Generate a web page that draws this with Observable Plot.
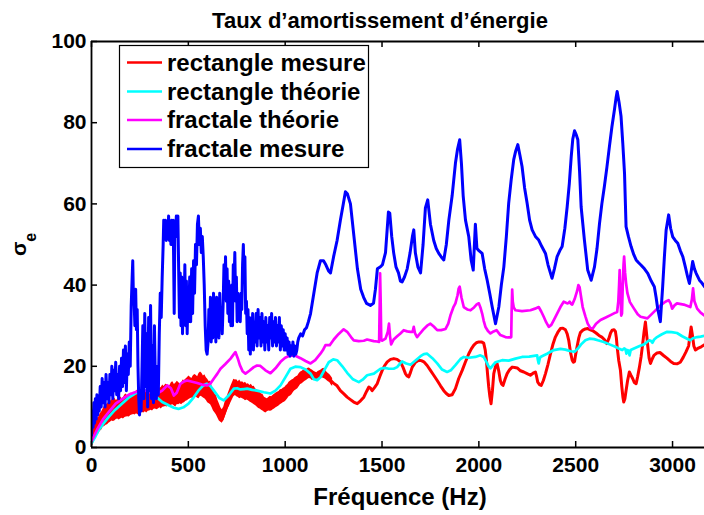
<!DOCTYPE html>
<html><head><meta charset="utf-8">
<script src="https://cdn.jsdelivr.net/npm/d3@7"></script>
<script src="https://cdn.jsdelivr.net/npm/@observablehq/plot@0.6"></script>
<style>body{margin:0;background:#fff;overflow:hidden} #chart svg{display:block}</style>
</head><body><div id="chart"></div>
<script>
const title = "Taux d’amortissement d’énergie";
const xLabel = "Fréquence (Hz)";
const yLabelMain = "σ";
const yLabelSub = "e";
const xTicks = [0, 500, 1000, 1500, 2000, 2500, 3000];
const yTicks = [0, 20, 40, 60, 80, 100];
const seriesNames = ["rectangle mesure", "rectangle théorie", "fractale théorie", "fractale mesure"];
const seriesColors = ["#ff0000", "#00ffff", "#ff00ff", "#0000ff"];

// rectangle mesure: [Hz, sigma]
const rectangleMesure = [[0,1],[10,3],[25,5],[50,6.5],[75,8],[100,8.5],[125,9],[150,9.5],[175,9.7],[200,10],[225,10.5],[250,10.8],[275,11],[300,11.2],[325,11.5],[350,12],[375,12],[400,12.3],[425,12.5],[450,12.8],[475,13],[500,13.2],[525,14],[550,14.5],[575,15],[600,14.5],[620,13],[640,10],[660,8],[675,7],[690,9],[709,11.6],[725,13.5],[743,14.9],[760,14.5],[778,14],[800,13.8],[821,13.3],[845,12.5],[864,11.6],[880,10.8],[898,10],[924,10.3],[940,11],[959,11.6],[976,12.2],[993,12.8],[1010,13.4],[1027,14],[1045,15],[1062,15.7],[1079,16.5],[1096,17.4],[1113,17.8],[1131,18.2],[1148,17.8],[1165,17.4],[1182,17.8],[1199,18.2],[1217,17.6],[1234,16.5],[1251,15.8],[1268,15.2],[1285,14],[1303,13.2],[1320,12.4],[1337,11.8],[1354,11.2],[1372,10.8],[1389,11.5],[1406,12.4],[1420,13.8],[1432,14.9],[1441,14.6],[1449,14],[1462,14.8],[1475,15.7],[1488,17.4],[1501,19],[1514,20.2],[1527,21.1],[1544,21.7],[1561,21.9],[1578,21.7],[1595,21.1],[1608,19.8],[1621,18.2],[1630,17.6],[1638,17.4],[1647,18.5],[1656,19.8],[1673,21],[1690,21.5],[1703,21.4],[1716,21.1],[1733,20.2],[1750,19],[1767,17.8],[1785,16.5],[1802,15.2],[1819,14],[1832,13.3],[1845,12.8],[1862,13],[1879,14.5],[1896,17],[1914,19],[1930,21],[1948,23.1],[1961,24.3],[1974,25.2],[1987,25.8],[2000,26],[2013,26],[2025,25.7],[2033,24],[2039,21.5],[2045,18],[2051,14.9],[2057,12.5],[2063,10.8],[2070,14],[2077,18.2],[2086,20],[2094,20.7],[2102,19],[2111,16.5],[2118,15.6],[2125,15.3],[2135,16.8],[2146,18.2],[2159,19.2],[2172,19.8],[2185,19.7],[2198,19.6],[2215,18.9],[2232,18.6],[2249,18.2],[2266,17.8],[2280,18.3],[2292,18.6],[2298,17.5],[2304,16.1],[2313,15.5],[2322,15.3],[2333,16.5],[2344,18.2],[2357,20.5],[2370,23.1],[2383,25.5],[2395,27.2],[2408,28.4],[2421,29.3],[2434,29.4],[2447,29],[2456,28],[2464,26.4],[2473,23.5],[2482,21.5],[2488,21],[2494,21.2],[2500,23],[2507,24.8],[2516,27],[2524,28.3],[2537,28.9],[2550,29.2],[2562,29.3],[2576,29],[2590,28.7],[2605,28.2],[2620,27.6],[2635,27.2],[2648,26.6],[2660,25.6],[2671,26.8],[2680,28.2],[2688,28.9],[2698,29],[2705,28.6],[2710,27],[2714,24.8],[2722,21.5],[2731,19],[2738,15],[2744,12.3],[2748,11.2],[2754,12],[2760,14],[2768,16.5],[2777,18.6],[2785,17.8],[2794,17],[2803,16],[2812,15.7],[2820,17.5],[2829,19.8],[2838,22.5],[2846,25.6],[2853,28.5],[2860,30.9],[2866,28],[2872,25],[2879,22],[2886,20.7],[2895,21.8],[2904,22.7],[2920,23.3],[2935,23.4],[2955,22.6],[2971,22],[2990,21.2],[3006,20.7],[3023,20.6],[3040,21],[3055,22.2],[3070,23.6],[3083,25],[3090,27.5],[3096,29.7],[3103,27.5],[3110,25],[3118,24],[3130,24.4],[3148,24.8],[3165,25.3]];

// rectangle mesure: noisy band [Hz, low, high]
const rectangleMesureNoise = [[0,0.3,2],[8,1.5,4.5],[15,2,5.5],[23,2.5,6.5],[30,3,7.2],[38,3.4,7.5],[45,4,8.3],[53,4.3,8.8],[60,5,9.5],[68,5.2,10.3],[75,5.5,10.5],[83,5.6,10.8],[90,6,11.2],[98,6.2,11.3],[105,6.5,11.8],[113,6.4,11.5],[120,6.5,12.2],[128,6.9,11.6],[135,7,11.8],[143,6.8,12.4],[150,7,12.5],[158,7.2,12],[165,7,12.3],[173,7.4,13],[180,7.5,13.2],[188,7.6,12.5],[195,7.5,12.8],[203,7.9,13.4],[210,8,13],[218,8.1,13.6],[225,8,13.5],[233,8.3,14],[240,8,14.2],[248,8.4,13.5],[255,8.5,13.8],[263,8.6,14.2],[270,8.5,14],[278,8.8,13.6],[285,8.5,13.9],[293,8.9,14.6],[300,9,14.5],[308,9.2,14],[315,9,14.3],[323,9.4,14.8],[330,9.5,14.6],[338,9.3,15.2],[345,9.5,15],[353,9.8,14.6],[360,9.5,14.8],[368,9.9,15.4],[375,10,15],[383,10.1,15.6],[390,10,15.5],[398,10.3,15],[405,10,15.3],[413,10.4,16],[420,10.5,16.2],[428,10.2,15.5],[435,10,15.8],[443,10.6,16.3],[450,10.5,16],[458,10.8,15.6],[465,10.5,15.9],[473,10.9,16.6],[480,11,16.5],[488,11.4,16.9],[495,11.5,17.2],[503,11.8,17.6],[510,12,17.3],[518,12.2,17],[525,12,17.6],[533,12.4,18],[540,12.5,17.8],[548,12.1,17.4],[555,12,18.2],[563,12.6,18.6],[570,12.5,18.3],[578,12.2,17.6],[585,12,17.9],[593,11.6,17.2],[600,11,16.8],[608,10.8,16.2],[615,10.5,16.4],[623,9.8,15],[630,9,14.2],[638,8.5,13.2],[645,8,12.8],[653,7.2,11.6],[660,6.5,10.8],[668,6.2,9.8],[675,6,9.3],[683,6.6,10],[690,7.5,11.2],[698,8.6,12.2],[705,9.5,13.2],[713,10.2,14.2],[720,11,15.1],[728,11.8,16],[735,12.5,16.8],[743,12.8,16.6],[750,12.5,16.7],[758,12.3,16.2],[765,12,16.6],[773,12.2,16.1],[780,12,16.2],[788,11.8,15.8],[795,11.5,16.1],[803,11.7,15.6],[810,11.5,15.7],[818,11.2,15.3],[825,11,15.6],[833,10.8,15],[840,10.5,15.1],[848,10.3,14.4],[855,10,14.2],[863,9.6,13.9],[870,9.5,13.6],[878,9.2,13.2],[885,9,13.1],[893,8.7,12.4],[900,8.5,12.2],[908,8.8,12],[915,9,12.3],[923,8.9,12.6],[930,9,12.5],[938,9.3,12.9],[945,9.5,13.1],[953,9.8,13.4],[960,10,13.6],[968,10.2,13.8],[975,10.5,14.2],[983,10.8,14.3],[990,11,14.6],[998,11.2,14.8],[1005,11.5,15.2],[1013,12,15.5],[1020,12.5,16.1],[1028,12.7,16.4],[1035,13,16.6],[1043,13.6,16.8],[1050,14,17.2],[1058,14.2,17.4],[1065,14.5,17.6],[1073,15,18.2],[1080,15.5,18.6],[1088,15.7,18.8],[1095,16,19.1],[1103,16.3,18.9],[1110,16.5,19.2],[1118,16.8,19.5],[1125,17,19.6],[1133,16.9,19.3],[1140,16.5,19.1],[1148,16.6,18.8],[1155,16.5,18.6],[1163,16.3,18.4],[1170,16.5,18.7],[1178,16.8,18.9],[1185,17,19.1],[1193,17.1,19.4],[1200,17,19.5],[1208,16.8,19],[1215,16.5,18.6],[1223,16.2,18.2],[1230,16,18],[1238,15.4,17.5],[1245,15,17]];

// rectangle théorie
const rectangleTheorie = [[0,1],[18,2.5],[36,4.2],[60,5.8],[88,7.5],[120,9.2],[157,10.8],[190,12.2],[225,13.3],[260,14],[294,14.2],[315,13.6],[337,12.4],[365,11.2],[398,10.4],[425,9.8],[449,9.5],[475,9.9],[501,10.8],[527,12.3],[552,14],[575,15.2],[595,15.7],[613,15.2],[632,14],[660,12.2],[683,11.6],[708,12.8],[735,14.5],[752,14.6],[769,14.3],[787,14.4],[804,14.5],[830,14.2],[855,14],[890,13.6],[924,13.3],[950,14],[976,15.3],[1000,17.2],[1027,19.4],[1052,19.9],[1079,19.8],[1105,19.2],[1131,18.2],[1148,16.8],[1165,16.6],[1182,17.3],[1205,19.3],[1225,21],[1248,21.7],[1268,21.5],[1295,20],[1320,18.4],[1350,16.8],[1380,16.1],[1400,16.7],[1423,17.8],[1458,18.2],[1492,19.4],[1515,19.6],[1535,19.4],[1560,19.4],[1578,19.8],[1595,20.8],[1604,21.2],[1625,20.7],[1647,20.4],[1670,21.3],[1699,22.5],[1716,23],[1733,23.1],[1760,22],[1785,20.7],[1810,19.2],[1836,18.6],[1855,19],[1879,20.3],[1905,21.8],[1922,22.3],[1948,22.1],[1982,22.3],[2008,22.7],[2025,22.3],[2039,21.1],[2050,20],[2060,19.5],[2075,20.4],[2086,21],[2120,21.5],[2154,21.4],[2189,21.9],[2223,22.3],[2260,22.4],[2301,22.7],[2305,21.5],[2309,20.7],[2314,21.8],[2318,22.3],[2352,23.1],[2387,24],[2421,24.3],[2447,24.1],[2473,23.7],[2494,23.6],[2510,24.3],[2528,25.4],[2550,26.4],[2571,26.8],[2595,26.7],[2614,26.4],[2645,26],[2675,25.4],[2705,24.8],[2725,24.3],[2740,24],[2750,24.4],[2757,24.2],[2762,23.1],[2768,24],[2774,23.8],[2778,22.7],[2784,24],[2801,24.4],[2830,25],[2853,25.4],[2879,26.4],[2890,26.2],[2896,25.8],[2905,26.6],[2920,27.2],[2945,27.9],[2972,28.5],[2995,28.4],[3023,28.2],[3050,27.4],[3075,26.8],[3092,26.4],[3105,26.9],[3127,27.2],[3145,27.3],[3165,27.5]];

// fractale théorie
const fractaleTheorie = [[0,1.5],[30,4.5],[60,7],[90,8.8],[125,10.8],[167,12.2],[200,13.2],[236,13.8],[265,14.1],[288,13.9],[310,13.4],[339,13.3],[365,14],[391,15.3],[410,14.6],[425,12.8],[440,13.5],[459,15.7],[478,16.3],[494,16.5],[520,16.2],[546,15.9],[570,15.5],[597,15.3],[615,15.8],[632,17],[650,18.2],[666,19.4],[690,20.5],[718,21.9],[735,23],[743,23.5],[755,22],[766,20.3],[780,18.8],[795,18.2],[815,18.9],[838,19.8],[855,20.2],[872,20.1],[898,19],[924,18.3],[950,19.5],[976,21.1],[1000,22.1],[1027,22.7],[1053,22.6],[1079,22],[1105,21.3],[1131,20.7],[1155,21.5],[1182,23.1],[1195,24],[1208,25.2],[1230,25.2],[1251,26.6],[1275,27.9],[1302,29.1],[1320,28.5],[1340,27.2],[1354,26.4],[1380,26.2],[1406,26.3],[1423,26.6],[1457,26.2],[1475,26.1],[1485,26],[1488,35],[1490,42.9],[1493,36],[1496,26.5],[1501,26.3],[1518,26.8],[1530,28.5],[1536,30.5],[1541,27.5],[1547,25.4],[1560,26.6],[1578,27.4],[1595,28.1],[1612,28.9],[1630,28.6],[1647,28.5],[1658,28.5],[1664,29.7],[1670,28.2],[1681,27.2],[1698,28.2],[1716,29.2],[1733,30],[1750,30.5],[1767,29.8],[1785,28.9],[1805,28.9],[1828,29.2],[1842,30.5],[1853,32.5],[1868,34.5],[1879,35.5],[1890,37.5],[1896,39.2],[1901,39.6],[1910,37],[1922,34.6],[1940,34],[1957,33.8],[1975,34.5],[1990,35.3],[2000,35.5],[2008,34.5],[2017,33],[2025,31.2],[2034,29.7],[2047,28.7],[2060,28.1],[2076,28.6],[2091,28.9],[2111,27.7],[2137,27.2],[2150,27.1],[2163,27.1],[2167,27.2],[2169,33],[2172,38.9],[2175,36],[2180,34.5],[2189,33.8],[2223,33.6],[2266,33.8],[2290,34.2],[2309,34.6],[2322,33.5],[2335,32.2],[2348,30.8],[2361,29.7],[2374,30.2],[2387,31.4],[2404,33],[2421,34.6],[2438,35.9],[2447,35.7],[2456,35.5],[2463,35.6],[2469,35.9],[2476,35.4],[2482,35.2],[2494,36.5],[2507,38.5],[2514,40],[2520,39.5],[2528,37],[2536,34.6],[2550,32.3],[2562,30.5],[2576,29.4],[2588,29.3],[2605,30.5],[2628,31.4],[2655,32],[2680,32.6],[2700,33.1],[2714,33.4],[2720,36],[2724,40],[2727,43.7],[2731,38],[2735,32.5],[2739,33],[2743,40],[2747,45],[2750,47],[2755,43],[2760,40.5],[2767,38],[2780,35.8],[2801,34.2],[2820,32.8],[2835,32.2],[2870,31.8],[2904,33.4],[2938,35],[2963,35.9],[2980,36.3],[2990,35.5],[2998,34.2],[3010,35],[3023,35.5],[3058,35.2],[3092,34.6],[3100,36.5],[3106,39.2],[3113,36],[3127,34.2],[3145,33.2],[3165,32.5]];

// fractale mesure
const fractaleMesure = [[0,3],[4,9],[8,5],[12,11],[16,6],[20,12],[24,7],[28,13],[32,8],[36,12],[40,9],[45,15],[50,10],[55,17],[60,11],[65,16],[70,10],[75,18],[80,12],[85,16],[90,11],[95,18],[100,13],[105,20],[110,12],[115,19],[120,14],[125,21],[130,13],[135,18],[140,12],[145,20],[150,14],[155,22],[160,15],[165,24],[170,16],[175,25],[180,14],[185,23],[190,18],[195,26],[200,20],[205,35],[210,42],[213,46],[216,38],[220,36],[224,30],[228,39],[232,29],[236,34],[240,20],[244,12],[248,8],[252,14],[256,9],[260,18],[265,30],[270,12],[275,33],[280,15],[285,28],[290,10],[295,32],[300,14],[305,35],[310,12],[315,25],[320,11],[325,30],[330,15],[335,12],[340,20],[345,13],[350,28],[355,38],[360,32],[365,42],[370,50],[373,56],[378,52],[382,56],[386,51],[390,55],[394,52],[398,57],[402,51],[406,55],[410,50],[414,56],[418,52],[422,56],[427,33],[430,52],[434,53],[438,57],[442,52],[446,57],[450,44],[454,32],[458,43],[462,30],[466,42],[470,28],[474,40],[478,33],[482,45],[486,30],[490,41],[494,28],[498,38],[502,31],[507,42],[512,31],[517,44],[522,33],[527,46],[532,38],[537,50],[542,45],[547,55],[552,57],[557,50],[562,54],[567,48],[572,52],[577,47],[582,40],[587,30],[592,24],[597,23],[602,26],[606,34],[610,27],[614,37],[618,26],[622,36],[626,27],[630,38],[634,28],[638,35],[642,26],[646,37],[650,29],[654,36],[658,27],[662,38],[666,30],[670,34],[675,28],[680,36],[684,45],[688,38],[692,47],[696,36],[700,44],[704,33],[708,41],[712,31],[716,36],[720,30],[724,40],[728,30],[732,45],[736,40],[740,48],[744,36],[748,42],[752,31],[756,38],[760,32],[764,35],[768,31],[772,38],[776,34],[780,45],[784,50],[788,41],[792,47],[796,33],[800,36],[804,28],[808,34],[812,24],[816,32],[820,23],[824,30],[828,25],[832,33],[836,24],[840,31],[845,26],[850,33],[855,25],[860,34],[865,27],[870,32],[875,25],[880,33],[885,26],[890,31],[895,24],[900,32],[905,26],[910,30],[915,24],[920,32],[925,27],[930,33],[935,25],[940,31],[945,26],[950,32],[955,25],[960,30],[965,26],[970,32],[975,24],[980,30],[985,25],[990,29],[995,24],[1000,28],[1005,24],[1010,27],[1015,23],[1020,26],[1025,22.5],[1030,25],[1035,23],[1040,26],[1045,22.5],[1050,25],[1055,23],[1060,24],[1065,26],[1070,27],[1080,28],[1090,27.5],[1100,29],[1110,29.5],[1120,31],[1131,33],[1148,38],[1165,43],[1182,46],[1198,46],[1210,45],[1224,43.5],[1234,43],[1250,47],[1268,51],[1285,56],[1300,60],[1311,63],[1321,62.5],[1337,60],[1355,52],[1373,44],[1390,39],[1405,37],[1420,35.5],[1440,35],[1456,35.5],[1466,39],[1476,44],[1492,44.5],[1502,45],[1518,48],[1533,58],[1540,57.7],[1550,52],[1560,48],[1572,44.5],[1585,43],[1595,41],[1604,40.8],[1616,42],[1630,44],[1645,48],[1657,52],[1664,53.6],[1672,48],[1685,44.5],[1699,43],[1712,50],[1724,59],[1736,61],[1750,55],[1767,51],[1780,49],[1793,47.8],[1805,47],[1819,46.2],[1832,50],[1845,56],[1862,62],[1879,70],[1890,73.5],[1901,75.8],[1910,70],[1919,62],[1931,56],[1948,51.9],[1960,46.2],[1971,43.7],[1977,50],[1982,55],[1990,49],[2000,48.5],[2017,47.8],[2030,44],[2043,41.2],[2056,38],[2069,34.6],[2086,30.5],[2103,34.6],[2116,40],[2129,44.5],[2142,52],[2154,60.2],[2167,66],[2180,70.9],[2190,73],[2201,74.6],[2212,72],[2223,69.2],[2236,64],[2249,60.2],[2262,56],[2275,53.6],[2292,52],[2309,51.1],[2325,49.5],[2344,47.8],[2357,45],[2370,42.9],[2378,41.7],[2390,44],[2404,47],[2418,48.5],[2430,49.5],[2444,54],[2456,59.3],[2467,65],[2477,71.7],[2485,76],[2494,78],[2503,77],[2511,75.8],[2520,68],[2528,59.3],[2545,51.1],[2562,43.7],[2580,41.2],[2597,44.5],[2610,49],[2623,55.2],[2635,60],[2648,64.3],[2661,69],[2674,74.1],[2687,79],[2700,83.2],[2708,86],[2714,87.7],[2724,85],[2734,81.6],[2743,75],[2752,67.6],[2760,54.4],[2772,52],[2786,49.5],[2800,47.5],[2812,46.2],[2825,45.5],[2838,44.9],[2855,44],[2872,42.9],[2890,41],[2906,39.6],[2915,37],[2924,34],[2937,31],[2949,39.6],[2958,47],[2967,53.6],[2980,57.3],[2990,54],[3001,51.9],[3014,51],[3027,50.3],[3040,48.5],[3053,47],[3066,44.5],[3078,42],[3087,40.4],[3095,43],[3104,45.8],[3113,44],[3122,42.9],[3139,41.2],[3152,40.5],[3165,39.6]];

const W = 704, H = 515, mL = 91, mR = 0, mT = 41, mB = 68;
const plotW = W - mL - mR, plotH = H - mT - mB;
const px = d => d[0], py = d => d[1];

const plot = Plot.plot({
  width: W, height: H,
  marginLeft: mL, marginRight: mR, marginTop: mT, marginBottom: mB,
  style: {fontFamily: "'Liberation Sans', Arial, sans-serif", fontWeight: "bold", fontSize: "21px", background: "#fff", color: "#000", overflow: "hidden"},
  x: {domain: [0, 3165]},
  y: {domain: [0, 100]},
  marks: [
    Plot.areaY(rectangleMesureNoise, {x: px, y1: d => d[1], y2: d => d[2], fill: seriesColors[0], clip: true}),
    Plot.line(rectangleMesure, {x: px, y: py, stroke: seriesColors[0], strokeWidth: 3, clip: true}),
    Plot.line(rectangleTheorie, {x: px, y: py, stroke: seriesColors[1], strokeWidth: 2.7, clip: true}),
    Plot.line(fractaleTheorie, {x: px, y: py, stroke: seriesColors[2], strokeWidth: 2.7, clip: true}),
    Plot.line(fractaleMesure, {x: px, y: py, stroke: seriesColors[3], strokeWidth: 3, clip: true}),
    Plot.ruleX(xTicks, {x: d => d, insetTop: plotH - 6, strokeWidth: 1.5}),
    Plot.ruleX(xTicks, {x: d => d, insetBottom: plotH - 6, strokeWidth: 1.5}),
    Plot.ruleY(yTicks, {y: d => d, insetRight: plotW - 6, strokeWidth: 1.5}),
    Plot.ruleY([0], {strokeWidth: 2}),
    Plot.ruleY([100], {strokeWidth: 1.8}),
    Plot.ruleX([0], {strokeWidth: 1.8}),
    Plot.axisX({ticks: xTicks, tickSize: 0, tickPadding: 10, tickFormat: d => String(d), label: null}),
    Plot.axisY({ticks: yTicks, tickSize: 0, tickPadding: 5, tickFormat: d => String(d), label: null})
  ]
});
document.getElementById("chart").appendChild(plot);

const svg = d3.select(plot);
svg.append("text").attr("x", 380).attr("y", 28).attr("text-anchor", "middle")
  .attr("font-size", 22).attr("font-weight", "bold").attr("fill", "#000").text(title);
svg.append("text").attr("x", 400).attr("y", 505).attr("text-anchor", "middle")
  .attr("font-size", 24).attr("font-weight", "bold").attr("fill", "#000").text(xLabel);
const yl = svg.append("text").attr("transform", "translate(26,256) rotate(-90)")
  .attr("text-anchor", "start")
  .attr("font-size", 21).attr("font-weight", "bold").attr("fill", "#000");
yl.append("tspan").text(yLabelMain);
yl.append("tspan").attr("dy", 10).attr("font-size", 16).text(yLabelSub);

const lg = svg.append("g");
lg.append("rect").attr("x", 119.5).attr("y", 45.5).attr("width", 249).attr("height", 122)
  .attr("fill", "#fff").attr("stroke", "#000").attr("stroke-width", 1.2);
const rowY = [62.5, 91.5, 120, 149];
seriesNames.forEach((name, i) => {
  lg.append("line").attr("x1", 127).attr("x2", 162).attr("y1", rowY[i]).attr("y2", rowY[i])
    .attr("stroke", seriesColors[i]).attr("stroke-width", 2.7);
  lg.append("text").attr("x", 167).attr("y", rowY[i]).attr("dy", "0.35em")
    .attr("text-anchor", "start")
    .attr("font-size", 24).attr("font-weight", "bold").attr("fill", "#000").text(name);
});
</script></body></html>
